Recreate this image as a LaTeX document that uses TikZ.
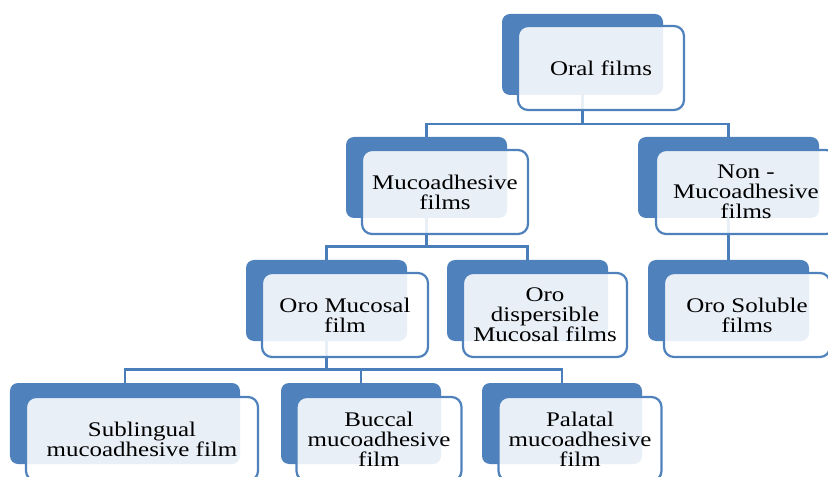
\documentclass[tikz,border=0pt]{standalone}
\usepackage{fontspec}
\setmainfont{Liberation Serif}[FakeStretch=1.2]
\usepackage{tikz}
\usetikzlibrary{backgrounds}
\definecolor{boxBlue}{HTML}{4F81BD}
\definecolor{linkBlue}{HTML}{4A7EBB}

\begin{document}
\begin{tikzpicture}[x=1bp,y=-1bp,
  font=\fontsize{20.8bp}{20bp}\selectfont,
  bk/.style={fill=boxBlue,rounded corners=8bp,minimum height=81bp,inner sep=0pt},
  fr/.style={draw=boxBlue,line width=2.2bp,fill=white,fill opacity=0.88,
             draw opacity=1,text opacity=1,rounded corners=10bp,
             minimum height=84bp,align=center,inner sep=0pt},
  link/.style={draw=linkBlue,line width=2.4bp}]
\useasboundingbox (0,0) rectangle (828,477);
\clip (0,0) rectangle (828,477);

% back plates
\node[bk,minimum width=161bp] (oralB) at (582.5,54.5)  {};
\node[bk,minimum width=161bp] (mucoB) at (426.5,177.5) {};
\node[bk,minimum width=181bp] (nonB)  at (728.5,177.5) {};
\node[bk,minimum width=161bp] (oromB) at (326.5,300.5) {};
\node[bk,minimum width=161bp] (orodB) at (527.5,300.5) {};
\node[bk,minimum width=161bp] (orosB) at (728.5,300.5) {};
\node[bk,minimum width=230bp] (subB)  at (125,423.5)   {};
\node[bk,minimum width=160bp] (bucB)  at (361,423.5)   {};
\node[bk,minimum width=160bp] (palB)  at (562,423.5)   {};

% front cards
\node[fr,minimum width=166bp] (oral) at (601,68)  {Oral films};
\node[fr,minimum width=166bp] (muco) at (445,192) {Mucoadhesive\\films};
\node[fr,minimum width=180bp] (non)  at (746,192) {Non -\\Mucoadhesive\\films};
\node[fr,minimum width=166bp] (orom) at (345,315) {Oro Mucosal\\film};
\node[fr,minimum width=164bp] (orod) at (545,315) {Oro\\dispersible\\Mucosal films};
\node[fr,minimum width=166bp] (oros) at (747,315) {Oro Soluble\\films};
\node[fr,minimum width=232bp] (sub)  at (142,439) {Sublingual\\mucoadhesive film};
\node[fr,minimum width=165bp] (buc)  at (379,439) {Buccal\\mucoadhesive\\film};
\node[fr,minimum width=163bp] (pal)  at (580,439) {Palatal\\mucoadhesive\\film};

\coordinate (bus1) at (0,124);
\coordinate (bus2) at (0,246.5);
\coordinate (bus3) at (0,369.5);

\begin{scope}[on background layer]
\draw[link] (oralB.south) -- (oralB.south |- bus1) -| (mucoB.north);
\draw[link] (oralB.south |- bus1) -| (nonB.north);
\draw[link] (mucoB.south) -- (mucoB.south |- bus2) -| (oromB.north);
\draw[link] (mucoB.south |- bus2) -| (orodB.north);
\draw[link] (nonB.south) -- (orosB.north);
\draw[link] (oromB.south) -- (oromB.south |- bus3) -| (subB.north);
\draw[link] (oromB.south |- bus3) -| (bucB.north);
\draw[link] (oromB.south |- bus3) -| (palB.north);
\end{scope}
\end{tikzpicture}
\end{document}
